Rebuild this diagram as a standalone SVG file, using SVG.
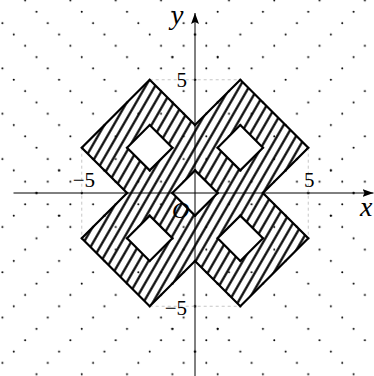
<svg xmlns="http://www.w3.org/2000/svg" width="374" height="376" viewBox="0 0 374 376">
<style>
.lbl{font-family:"Liberation Serif","DejaVu Serif",serif;fill:#000}
.it{font-style:italic}
.dash{stroke:#b8b8b8;stroke-width:0.8;stroke-dasharray:3 3;fill:none}
.axis{stroke:#000;stroke-width:1;fill:none}
.outline{fill:none;stroke:#000;stroke-width:2.2;stroke-linejoin:miter}
.hole{fill:#fff;stroke:#000;stroke-width:2.2}
</style>
<defs>
<pattern id="dotsA" patternUnits="userSpaceOnUse" x="189.3375" y="187.3375" width="45.3" height="45.3">
<circle cx="5.66" cy="28.31" r="1"/><circle cx="16.99" cy="39.64" r="1"/><circle cx="28.31" cy="5.66" r="1"/><circle cx="39.64" cy="16.99" r="1"/>
</pattern>
<pattern id="dotsB" patternUnits="userSpaceOnUse" x="189.3375" y="187.3375" width="45.3" height="45.3">
<circle cx="5.66" cy="28.31" r="1"/><circle cx="16.99" cy="16.99" r="1"/><circle cx="28.31" cy="5.66" r="1"/><circle cx="39.64" cy="39.64" r="1"/>
</pattern>
<pattern id="hatch" patternUnits="userSpaceOnUse" x="4.79" y="0" width="8.175" height="40" patternTransform="rotate(30 195 193)">
<line x1="4.0875" y1="-5" x2="4.0875" y2="45" stroke="#000" stroke-width="2.2"/>
</pattern>
<marker id="arr" markerWidth="12" markerHeight="10" refX="11" refY="5" orient="auto" markerUnits="userSpaceOnUse">
<path d="M0,1 L11,5 L0,9 L2,5 Z" fill="#000"/>
</marker>
</defs>
<g id="background-dots">
<polygon fill="url(#dotsA)" points="-8.85,-10.85 195,-10.85 195,28.79 234.64,68.43 234.64,153.36 319.58,153.36 359.21,193 398.85,193 398.85,396.85 195,396.85 195,357.21 155.36,317.58 155.36,232.64 70.43,232.64 30.79,193 -8.85,193"/>
<polygon fill="url(#dotsB)" points="398.85,-10.85 195,-10.85 195,28.79 155.36,68.43 155.36,153.36 70.43,153.36 30.79,193 -8.85,193 -8.85,396.85 195,396.85 195,357.21 234.64,317.58 234.64,232.64 319.58,232.64 359.21,193 398.85,193"/>
</g>
<g id="guides">
<line class="dash" x1="149.7" y1="79.75" x2="240.3" y2="79.75"/>
<line class="dash" x1="149.7" y1="306.25" x2="240.3" y2="306.25"/>
<line class="dash" x1="81.75" y1="147.7" x2="81.75" y2="238.3"/>
<line class="dash" x1="308.25" y1="147.7" x2="308.25" y2="238.3"/>
</g>
<g id="region">
<path fill="url(#hatch)" fill-rule="evenodd" d="M149.7,79.75 L195,125.05 L240.3,79.75 L308.25,147.7 L262.95,193 L308.25,238.3 L240.3,306.25 L195,260.95 L149.7,306.25 L81.75,238.3 L127.05,193 L81.75,147.7 Z M127.05,147.7 L149.7,125.05 L172.35,147.7 L149.7,170.35 Z M217.65,147.7 L240.3,125.05 L262.95,147.7 L240.3,170.35 Z M127.05,238.3 L149.7,215.65 L172.35,238.3 L149.7,260.95 Z M217.65,238.3 L240.3,215.65 L262.95,238.3 L240.3,260.95 Z M172.35,193 L195,170.35 L217.65,193 L195,215.65 Z"/>
<path class="outline" d="M149.7,79.75 L195,125.05 L240.3,79.75 L308.25,147.7 L262.95,193 L308.25,238.3 L240.3,306.25 L195,260.95 L149.7,306.25 L81.75,238.3 L127.05,193 L81.75,147.7 Z"/>
</g>
<g id="hole-ul"><path class="hole" d="M127.05,147.7 L149.7,125.05 L172.35,147.7 L149.7,170.35 Z"/></g>
<g id="hole-ur"><path class="hole" d="M217.65,147.7 L240.3,125.05 L262.95,147.7 L240.3,170.35 Z"/></g>
<g id="hole-ll"><path class="hole" d="M127.05,238.3 L149.7,215.65 L172.35,238.3 L149.7,260.95 Z"/></g>
<g id="hole-lr"><path class="hole" d="M217.65,238.3 L240.3,215.65 L262.95,238.3 L240.3,260.95 Z"/></g>
<g id="hole-center"><path class="hole" d="M172.35,193 L195,170.35 L217.65,193 L195,215.65 Z"/></g>
<g id="axes">
<line class="axis" x1="13.5" y1="193" x2="373.5" y2="193" marker-end="url(#arr)"/>
<line class="axis" x1="195" y1="376" x2="195" y2="13" marker-end="url(#arr)"/>
</g>
<g id="labels">
<text class="lbl it" x="360" y="216" font-size="28">x</text>
<text class="lbl it" x="171" y="24" font-size="28">y</text>
<text class="lbl it" x="172" y="218" font-size="24">O</text>
<text class="lbl" x="187" y="87" font-size="21" text-anchor="end">5</text>
<text class="lbl" x="304" y="187" font-size="21">5</text>
<text class="lbl" x="95" y="187" font-size="21" text-anchor="end">−5</text>
<text class="lbl" x="187" y="315" font-size="21" text-anchor="end">−5</text>
</g>
</svg>
